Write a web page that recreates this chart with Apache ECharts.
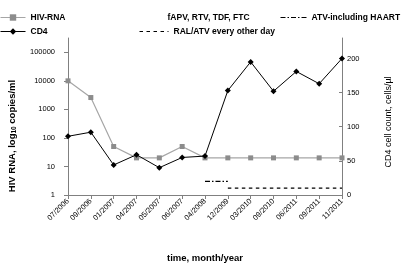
<!DOCTYPE html>
<html>
<head>
<meta charset="utf-8">
<script src="https://cdn.jsdelivr.net/npm/echarts@6/dist/echarts.min.js"></script>
<style>
  html, body { margin: 0; padding: 0; background: #fff; }
  #chart { width: 405px; height: 273px; }
</style>
</head>
<body>
<div id="chart"></div>
<script>
// categories (month/year)
const months = ["07/2006", "09/2006", "01/2007", "04/2007", "05/2007", "06/2007", "04/2008",
  "12/2009", "03/2010", "09/2010", "06/2011", "09/2011", "11/2011"];
// HIV RNA, copies/ml (left log axis)
const hivRna = [10000, 2600, 50, 20, 20, 50, 20, 20, 20, 20, 20, 20, 20];
// CD4 cells/ul (right axis)
const cd4 = [86, 92, 44, 59, 40, 55, 57, 153, 195, 152, 181, 163, 200];
// regimen markers (right axis)
const atvHaart = [null, null, null, null, null, null, 20, 20, null, null, null, null, null];
const ralAtv = [null, null, null, null, null, null, null, 10, 10, 10, 10, 10, 10];
// tick labels
const leftTicks = [1, 10, 100, 1000, 10000, 100000];
const rightTicks = [0, 50, 100, 150, 200];

const FONT = "Liberation Sans";
const myChart = echarts.init(document.getElementById("chart"));

const legendText = { fontFamily: FONT, fontSize: 8.5, fontWeight: "bold", color: "#000" };
function oneLegend(name, left, top, w, noSymbol) {
  const lg = {
    data: [name], left: left, top: top, orient: "horizontal",
    itemWidth: w, itemHeight: 8, padding: 0, itemGap: 0,
    selectedMode: false, textStyle: legendText,
    lineStyle: { width: 1 }
  };
  // line-only entries: hide the legend marker
  if (noSymbol) lg.itemStyle = { opacity: 0 };
  return lg;
}

const option = {
  backgroundColor: "#fff",
  animation: false,
  legend: [
    oneLegend("HIV-RNA", 0, 13, 25, false),
    oneLegend("CD4", 0, 27, 25, false),
    oneLegend("fAPV, RTV, TDF, FTC", 137, 13, 25, true),
    oneLegend("ATV-including HAART", 280, 13, 26, true),
    oneLegend("RAL/ATV every other day", 139, 27, 29, true)
  ],
  grid: { left: 68, right: 63, top: 38, bottom: 78 },
  xAxis: {
    type: "category",
    data: months,
    boundaryGap: false,
    axisLine: { lineStyle: { color: "#808080", width: 1 } },
    axisTick: { show: true, length: 4, interval: 0, lineStyle: { color: "#808080" } },
    axisLabel: {
      interval: 0, rotate: 45, margin: 5,
      fontFamily: FONT, fontSize: 7.5, color: "#000"
    },
    splitLine: { show: false }
  },
  yAxis: [
    {
      type: "log",
      logBase: 10,
      min: 1,
      max: 317000,
      axisLine: { show: true, lineStyle: { color: "#808080", width: 1 } },
      axisTick: { show: true, length: 4, customValues: leftTicks, lineStyle: { color: "#808080" } },
      axisLabel: {
        customValues: leftTicks, margin: 13,
        fontFamily: FONT, fontSize: 7.5, color: "#000",
        formatter: (v) => String(v)
      },
      splitLine: { show: false }
    },
    {
      type: "value",
      min: 0,
      max: 230,
      position: "right",
      axisLine: { show: true, lineStyle: { color: "#808080", width: 1 } },
      axisTick: { show: true, inside: true, length: 3, customValues: rightTicks, lineStyle: { color: "#808080" } },
      axisLabel: {
        customValues: rightTicks, margin: 5,
        fontFamily: FONT, fontSize: 7.5, color: "#000"
      },
      splitLine: { show: false }
    }
  ],
  series: [
    {
      name: "HIV-RNA",
      type: "line",
      yAxisIndex: 0,
      data: hivRna,
      symbol: "rect",
      symbolSize: 5,
      lineStyle: { color: "#a6a6a6", width: 1.2 },
      itemStyle: { color: "#8c8c8c" },
      z: 3
    },
    {
      name: "CD4",
      type: "line",
      yAxisIndex: 1,
      data: cd4,
      symbol: "diamond",
      symbolSize: 6,
      lineStyle: { color: "#000", width: 1 },
      itemStyle: { color: "#000" },
      z: 4
    },
    {
      name: "fAPV, RTV, TDF, FTC",
      type: "line",
      yAxisIndex: 1,
      data: [],
      symbol: "none",
      lineStyle: { color: "rgba(0,0,0,0)", width: 1 },
      itemStyle: { color: "rgba(0,0,0,0)" }
    },
    {
      name: "ATV-including HAART",
      type: "line",
      yAxisIndex: 1,
      data: atvHaart,
      symbol: "none",
      lineStyle: { color: "#000", width: 1.1, type: [5, 2, 1.5, 2] },
      itemStyle: { color: "#000" }
    },
    {
      name: "RAL/ATV every other day",
      type: "line",
      yAxisIndex: 1,
      data: ralAtv,
      symbol: "none",
      lineStyle: { color: "#000", width: 1.1, type: [3.5, 3.5] },
      itemStyle: { color: "#000" }
    }
  ],
  graphic: [
    {
      type: "text", x: 12, y: 136, rotation: Math.PI / 2,
      style: {
        text: "HIV RNA, log{s|10} copies/ml",
        align: "center", verticalAlign: "middle",
        fontFamily: FONT, fontSize: 9.5, fontWeight: "bold", fill: "#000",
        rich: { s: { fontFamily: FONT, fontSize: 6.5, fontWeight: "bold", padding: [4, 0, 0, 0] } }
      }
    },
    {
      type: "text", x: 389, y: 122, rotation: Math.PI / 2,
      style: {
        text: "CD4 cell count, cells/\u00b5l",
        align: "center", verticalAlign: "middle",
        fontFamily: FONT, fontSize: 9, fill: "#000"
      }
    },
    {
      type: "text", x: 205, y: 258,
      style: {
        text: "time, month/year",
        align: "center", verticalAlign: "middle",
        fontFamily: FONT, fontSize: 9.5, fontWeight: "bold", fill: "#000"
      }
    }
  ]
};

myChart.setOption(option, true);
</script>
</body>
</html>
